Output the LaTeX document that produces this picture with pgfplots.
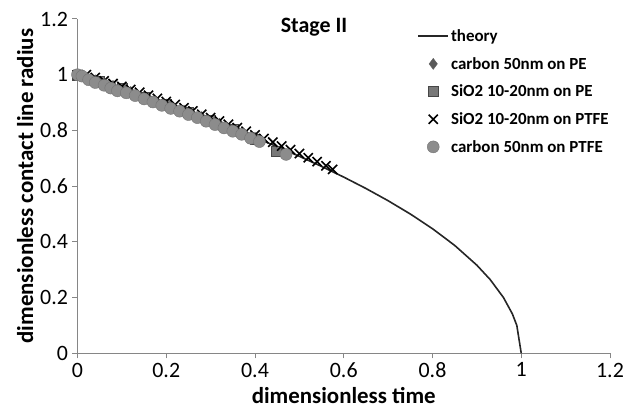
\documentclass[border=0pt]{standalone}
\usepackage{pgfplots}
\pgfplotsset{compat=1.18}
\usepackage{fontspec}
\setmainfont{Carlito}
\usetikzlibrary{calc}
\definecolor{axgray}{RGB}{134,134,134}
\definecolor{ptgray}{RGB}{140,140,140}
\definecolor{ptedge}{RGB}{115,115,115}
\definecolor{sqgray}{RGB}{120,120,120}
\definecolor{sqedge}{RGB}{70,70,70}
\definecolor{dmgray}{RGB}{90,90,90}
\begin{document}
\begin{tikzpicture}
\begin{axis}[
  scale only axis,
  width=532.5bp, height=334.3bp,
  xmin=0, xmax=1.2, ymin=0, ymax=1.2,
  xtick={0,0.2,...,1.2}, ytick={0,0.2,...,1.2},
  axis lines*=left,
  axis line style={axgray, line width=1bp},
  tick style={axgray, line width=1bp},
  tick align=outside,
  major tick length=5bp,
  /pgf/number format/assume math mode=true,
  /pgf/number format/fixed,
  ticklabel style={font=\fontsize{22}{24}\selectfont},
  xticklabel style={yshift=-1bp},
  yticklabel style={xshift=-1bp},
  xlabel={\bfseries dimensionless time},
  ylabel={\bfseries dimensionless contact line radius},
  label style={font=\fontsize{23}{26}\selectfont},
  xlabel style={yshift=-3bp},
  ylabel style={yshift=0bp},
  clip=false,
  legend style={at={(0.638,0.975)}, anchor=north west, draw=none, fill=none,
    font=\fontsize{17}{20}\selectfont\bfseries, row sep=10.3bp, inner sep=0pt},
  legend cell align=left,
  legend image code/.code={\draw[mark repeat=2,mark phase=2] plot coordinates {(0bp,0bp) (15bp,0bp) (30bp,0bp)};},
]
\addplot[black!85, line width=1.6bp, no markers] coordinates {
(0,1) (0.05,0.9747) (0.1,0.9487) (0.15,0.922) (0.2,0.8944) (0.25,0.866)
(0.3,0.8367) (0.35,0.8062) (0.4,0.7746) (0.45,0.7416) (0.5,0.7071)
(0.55,0.6708) (0.6,0.6325) (0.65,0.5916) (0.7,0.5477) (0.75,0.5)
(0.8,0.4472) (0.85,0.3873) (0.9,0.3162) (0.93,0.2646) (0.96,0.2)
(0.98,0.1414) (0.99,0.1) (1.0,0)};
\addlegendentry{theory}
\addplot[only marks, mark=diamond*, mark size=5.5bp, draw=dmgray, fill=dmgray] coordinates {
(0,1) (0.04,0.98) (0.08,0.96) (0.12,0.938) (0.16,0.916) (0.2,0.893)
(0.24,0.871) (0.28,0.848) (0.32,0.824) (0.36,0.80) (0.4,0.774)};
\addlegendentry{carbon 50nm on PE}
\addplot[only marks, mark=square*, mark size=5bp, draw=sqedge, fill=sqgray] coordinates {
(0,1.0) (0.05,0.975) (0.1,0.95) (0.15,0.92) (0.2,0.893) (0.25,0.865)
(0.3,0.835) (0.35,0.805) (0.4,0.77) (0.448,0.727)};
\addlegendentry{SiO2 10-20nm on PE}
\addplot[only marks, mark=x, mark size=6.5bp, black, line width=1.6bp] coordinates {
(0,1.00) (0.02,1.0) (0.04,0.99) (0.06,0.978) (0.08,0.968) (0.10,0.958)
(0.12,0.947) (0.14,0.937) (0.16,0.926) (0.18,0.915) (0.20,0.904)
(0.22,0.893) (0.24,0.881) (0.26,0.870) (0.28,0.858) (0.30,0.846)
(0.32,0.834) (0.34,0.822) (0.36,0.81) (0.38,0.797) (0.40,0.784)
(0.42,0.771) (0.44,0.758) (0.46,0.744) (0.48,0.731) (0.50,0.717)
(0.52,0.702) (0.54,0.688) (0.56,0.673) (0.575,0.66)};
\addlegendentry{SiO2 10-20nm on PTFE}
\addplot[only marks, mark=*, mark size=6bp, draw=ptedge, fill=ptgray] coordinates {
(0,1.0) (0.01,0.995) (0.025,0.982) (0.04,0.972) (0.06,0.962) (0.075,0.952)
(0.09,0.942) (0.11,0.935) (0.13,0.925) (0.15,0.913) (0.17,0.902)
(0.19,0.890) (0.21,0.879) (0.23,0.869) (0.25,0.857) (0.27,0.846)
(0.29,0.833) (0.31,0.821) (0.33,0.809) (0.35,0.797) (0.37,0.786)
(0.39,0.772) (0.41,0.760) (0.47,0.714)};
\addlegendentry{carbon 50nm on PTFE}
\node[font=\fontsize{22}{24}\selectfont\bfseries] at (axis cs:0.533,1.169) {Stage II};
\coordinate (bbsw) at ($(rel axis cs:0,0)+(-77.5bp,-60.7bp)$);
\coordinate (bbne) at ($(rel axis cs:1,1)+(17bp,19bp)$);
\end{axis}
\pgfresetboundingbox
\path[use as bounding box] (bbsw) rectangle (bbne);
\end{tikzpicture}
\end{document}
